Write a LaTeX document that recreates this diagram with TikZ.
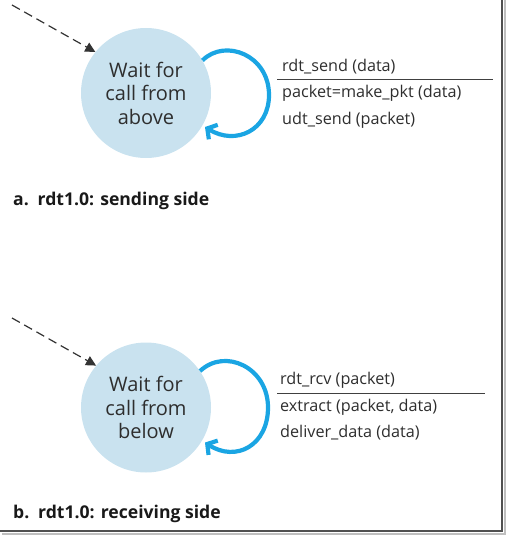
\documentclass[tikz,border=0pt]{standalone}
\usepackage{fontspec}
\setmainfont{Open Sans}
\usetikzlibrary{arrows.meta,calc}
\definecolor{stfill}{HTML}{C9E2EF}
\definecolor{loopblue}{HTML}{1AA5E3}
\definecolor{txt}{HTML}{2E2E2E}
\definecolor{framecol}{HTML}{505050}
\tikzset{
  statenode/.style={circle, fill=stfill, minimum size=130pt, inner sep=0pt, align=center,
    text=txt, font=\fontsize{20}{23.5}\selectfont},
  initarrow/.style={draw=black!80, line width=1.2pt, dash pattern=on 9pt off 5pt,
    -{Triangle[length=10pt,width=10pt]}},
  selfloop/.style={draw=loopblue, line width=4.2pt,
    -{Straight Barb[length=7pt,width=17pt,line width=4.2pt]}},
  lbl/.style={anchor=west, inner sep=0pt, text=txt, font=\fontsize{16.2}{19}\selectfont},
  caption/.style={anchor=west, inner sep=0pt, text=black!90, font=\fontsize{17.6}{20}\selectfont\bfseries},
  rule/.style={draw=black!75, line width=1pt},
  framel/.style={draw=framecol, line width=2pt},
  shadowl/.style={draw=black!25, line width=2pt}
}
\begin{document}
\begin{tikzpicture}[x=1pt,y=-1pt]
\useasboundingbox (0,0) rectangle (506,535);
% frame
\draw[shadowl] (2,533.5) -- (504.5,533.5) -- (504.5,0);
\draw[framel] (0,531) -- (502,531) -- (502,0);

% ---- sending side ----
\node[statenode] (s1) at (146,93) {Wait for\\call from\\above};
\coordinate (i1) at (12,5);
\draw[initarrow] (i1) -- (s1.141);
\coordinate (r1) at ($(s1.center)+(123,2)$);
\draw[selfloop] (s1.30) .. controls ($(s1.center)+(79,-55)$) and ($(s1.center)+(123,-38)$) .. (r1)
  .. controls ($(s1.center)+(123,37)$) and ($(s1.center)+(90,53)$) .. ($(s1.center)+(59,34)$);
\node[lbl] (e1) at (282,67) {rdt\_send (data)};
\coordinate (h1a) at (277,79.5);
\coordinate (h1b) at (493,79.5);
\draw[rule] (h1a) -- (h1b);
\node[lbl] (a1) at (282,93) {packet=make\_pkt (data)};
\node[lbl] (b1) at (282,120) {udt\_send (packet)};
\node[caption] (c1) at (13,201) {a.\hspace{0.5em}rdt1.0: sending side};

% ---- receiving side ----
\node[statenode] (s2) at (146,407.5) {Wait for\\call from\\below};
\coordinate (i2) at (12,318);
\draw[initarrow] (i2) -- (s2.140);
\coordinate (r2) at ($(s2.center)+(122,0)$);
\draw[selfloop] (s2.34) .. controls ($(s2.center)+(79,-60)$) and ($(s2.center)+(122,-40)$) .. (r2)
  .. controls ($(s2.center)+(122,38)$) and ($(s2.center)+(90,55)$) .. ($(s2.center)+(59,35)$);
\node[lbl] (e2) at (280,380) {rdt\_rcv (packet)};
\coordinate (h2a) at (277,393);
\coordinate (h2b) at (485,393);
\draw[rule] (h2a) -- (h2b);
\node[lbl] (a2) at (280,407) {extract (packet, data)};
\node[lbl] (b2) at (280,433) {deliver\_data (data)};
\node[caption] (c2) at (13,514) {b.\hspace{0.5em}rdt1.0: receiving side};
\end{tikzpicture}
\end{document}
